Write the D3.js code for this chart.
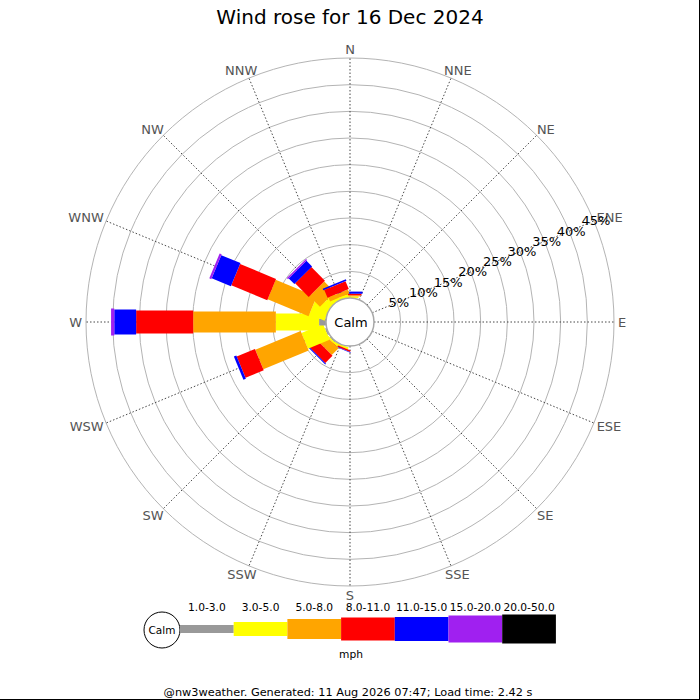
<!DOCTYPE html>
<html>
<head>
<meta charset="utf-8">
<script src="https://cdn.jsdelivr.net/npm/d3@7"></script>
<style>
  html, body { margin: 0; padding: 0; background: #fff; }
  svg { display: block; font-family: "DejaVu Sans", sans-serif; }
</style>
</head>
<body>
<svg id="chart" width="700" height="700"></svg>
<script>
// ---- data (percent of time per direction & speed range) ----
const directions = ["N","NNE","NE","ENE","E","ESE","SE","SSE","S","SSW","SW","WSW","W","WNW","NW","NNW"];
const speedRanges = ["1.0-3.0","3.0-5.0","5.0-8.0","8.0-11.0","11.0-15.0","15.0-20.0","20.0-50.0"];
//                      N   NNE NE  ENE E   ESE SE  SSE S   SSW  SW   WSW  W     WNW  NW   NNW
const range1to3   = [0,  0,  0,  0,  0,  0,  0,  0,  0,  0,   0.2, 0.3, 1.3,  0,   0,   0];
const range3to5   = [0.3,0,  0,  0,  0,  0,  0,  0,  0,  0.4, 0.3, 4.4, 8.1,  3.1, 1.5, 0.5];
const range5to8   = [0.2,0,  0,  0,  0,  0,  0,  0,  0,  0,   1.8, 9.2, 15.5, 8.3, 2.8, 0.8];
const range8to11  = [0.3,0,  0,  0,  0,  0,  0,  0,  0,  0.3, 1.9, 3.7, 10.7, 7.3, 3.6, 1.6];
const range11to15 = [0.4,0,  0,  0,  0,  0,  0,  0,  0,  0.1, 0.2, 0.5, 4.1,  3.9, 1.5, 0.3];
const range15to20 = [0,  0,  0,  0,  0,  0,  0,  0,  0,  0,   0,   0,   0.6,  0.4, 0.3, 0];
const range20to50 = [0,  0,  0,  0,  0,  0,  0,  0,  0,  0,   0,   0,   0,    0,   0,   0];
const seriesValues = [range1to3, range3to5, range5to8, range8to11, range11to15, range15to20, range20to50];
const gridTicks = [5,10,15,20,25,30,35,40,45];
const tickLabels = gridTicks.map(d => d + "%");
const unitLabel = "mph";
const calmLabel = "Calm";
const titleText = "Wind rose for 16 Dec 2024";
const footerText = "@nw3weather. Generated: 11 Aug 2026 07:47; Load time: 2.42 s";

// ---- styling ----
const colors = ["#999999","#ffff00","#ffa500","#ff0000","#0000ff","#a020f0","#000000"];
const legWidths = [7,17,21,23,25,27,29];
const legendHeights = [8,14,20,23,24,27,29];

const svg = d3.select("#chart");
const cx = 350, cy = 322, r0 = 24, R = 264;
const rScale = d3.scaleLinear().domain([0, 45]).range([r0, R]);
const angle = d3.scaleBand().domain(directions).range([0, 2*Math.PI]).paddingInner(0).align(0);
const bearing = d => angle(d); // N at 0, clockwise

svg.append("rect").attr("width",700).attr("height",700).attr("fill","#fff");

// title
svg.append("text").attr("x",350).attr("y",24).attr("text-anchor","middle")
  .attr("font-size",20).attr("fill","#000").text(titleText);

const g = svg.append("g");

// grid circles
g.selectAll("circle.grid").data(gridTicks).join("circle")
  .attr("cx",cx).attr("cy",cy).attr("r",d => rScale(d))
  .attr("fill","none").attr("stroke","#b4b4b4").attr("stroke-width",1);

// radial lines
g.selectAll("line.rad").data(directions).join("line")
  .attr("x1",d => cx + r0*Math.sin(bearing(d)))
  .attr("y1",d => cy - r0*Math.cos(bearing(d)))
  .attr("x2",d => cx + R*Math.sin(bearing(d)))
  .attr("y2",d => cy - R*Math.cos(bearing(d)))
  .attr("stroke","#333").attr("stroke-width",0.9).attr("stroke-dasharray","1.5,2");

// bars
const segs = [];
directions.forEach((dir, i) => {
  let cum = 0;
  seriesValues.forEach((vals, k) => {
    const v = vals[i];
    if (v > 0) {
      segs.push({dir, k, a: cum, b: cum + v});
      cum += v;
    }
  });
});
function segPoly(s) {
  const t = bearing(s.dir);
  const ux = Math.sin(t), uy = -Math.cos(t);
  const px = Math.cos(t), py = Math.sin(t);
  const r1 = rScale(s.a), r2 = rScale(s.b), hw = legWidths[s.k]/2;
  return [
    [cx + ux*r1 + px*hw, cy + uy*r1 + py*hw],
    [cx + ux*r2 + px*hw, cy + uy*r2 + py*hw],
    [cx + ux*r2 - px*hw, cy + uy*r2 - py*hw],
    [cx + ux*r1 - px*hw, cy + uy*r1 - py*hw]
  ].map(p => p.join(",")).join(" ");
}
g.selectAll("polygon.seg").data(segs).join("polygon")
  .attr("points", segPoly).attr("fill", d => colors[d.k]);

// calm circle
g.append("circle").attr("cx",cx).attr("cy",cy).attr("r",r0)
  .attr("fill","#fff").attr("stroke","#a8a8a8").attr("stroke-width",1.5);
g.append("text").attr("x",cx+1).attr("y",cy+5).attr("text-anchor","middle")
  .attr("font-size",13).attr("fill","#000").text(calmLabel);

// direction labels
const capH = 9.5;
const dirText = g.selectAll("text.dir").data(directions).join("text")
  .attr("font-size",13).attr("fill","#555").attr("text-anchor","middle").text(d => d);
dirText.each(function(d) {
  const w = this.getComputedTextLength();
  const t = bearing(d);
  const rp = R + 4;
  const xc = cx + rp*Math.sin(t) + (w/2)*Math.sin(t);
  const yc = cy - rp*Math.cos(t) - (capH/2)*Math.cos(t);
  d3.select(this).attr("x", xc).attr("y", yc + capH/2);
});

// percentage labels along ENE
const tLab = bearing("ENE");
g.selectAll("text.pct").data(gridTicks).join("text")
  .attr("x", d => cx + rScale(d)*Math.sin(tLab) + 2)
  .attr("y", d => cy - rScale(d)*Math.cos(tLab) + 4.5)
  .attr("text-anchor","middle").attr("font-size",13).attr("fill","#000")
  .text((d,i) => tickLabels[i]);

// legend
const lg = svg.append("g");
const lx0 = 180, lw = 53.7, ly = 629;
const lScale = d3.scaleBand().domain(speedRanges).range([lx0, lx0 + lw*speedRanges.length]);
lg.append("circle").attr("cx",162).attr("cy",630).attr("r",18)
  .attr("fill","#fff").attr("stroke","#000").attr("stroke-width",1);
lg.append("text").attr("x",162).attr("y",634).attr("text-anchor","middle")
  .attr("font-size",10.5).attr("fill","#000").text(calmLabel);
lg.selectAll("rect.leg").data(speedRanges).join("rect")
  .attr("x", d => lScale(d)).attr("width", lScale.bandwidth())
  .attr("y", (d,i) => ly - legendHeights[i]/2).attr("height",(d,i) => legendHeights[i])
  .attr("fill",(d,i) => colors[i]);
lg.selectAll("text.leg").data(speedRanges).join("text")
  .attr("x", d => lScale(d) + lScale.bandwidth()/2).attr("y",611)
  .attr("text-anchor","middle").attr("font-size",10.67).attr("fill","#000").text(d => d);
lg.append("text").attr("x",351).attr("y",658).attr("text-anchor","middle")
  .attr("font-size",10.67).attr("fill","#000").text(unitLabel);

// footer
svg.append("text").attr("x",348).attr("y",696).attr("text-anchor","middle")
  .attr("font-size",11.3).attr("fill","#000").text(footerText);

// frame edges (right & bottom)
svg.append("line").attr("x1",699.5).attr("y1",0).attr("x2",699.5).attr("y2",700).attr("stroke","#000");
svg.append("line").attr("x1",0).attr("y1",699.5).attr("x2",700).attr("y2",699.5).attr("stroke","#000");
</script>
</body>
</html>
